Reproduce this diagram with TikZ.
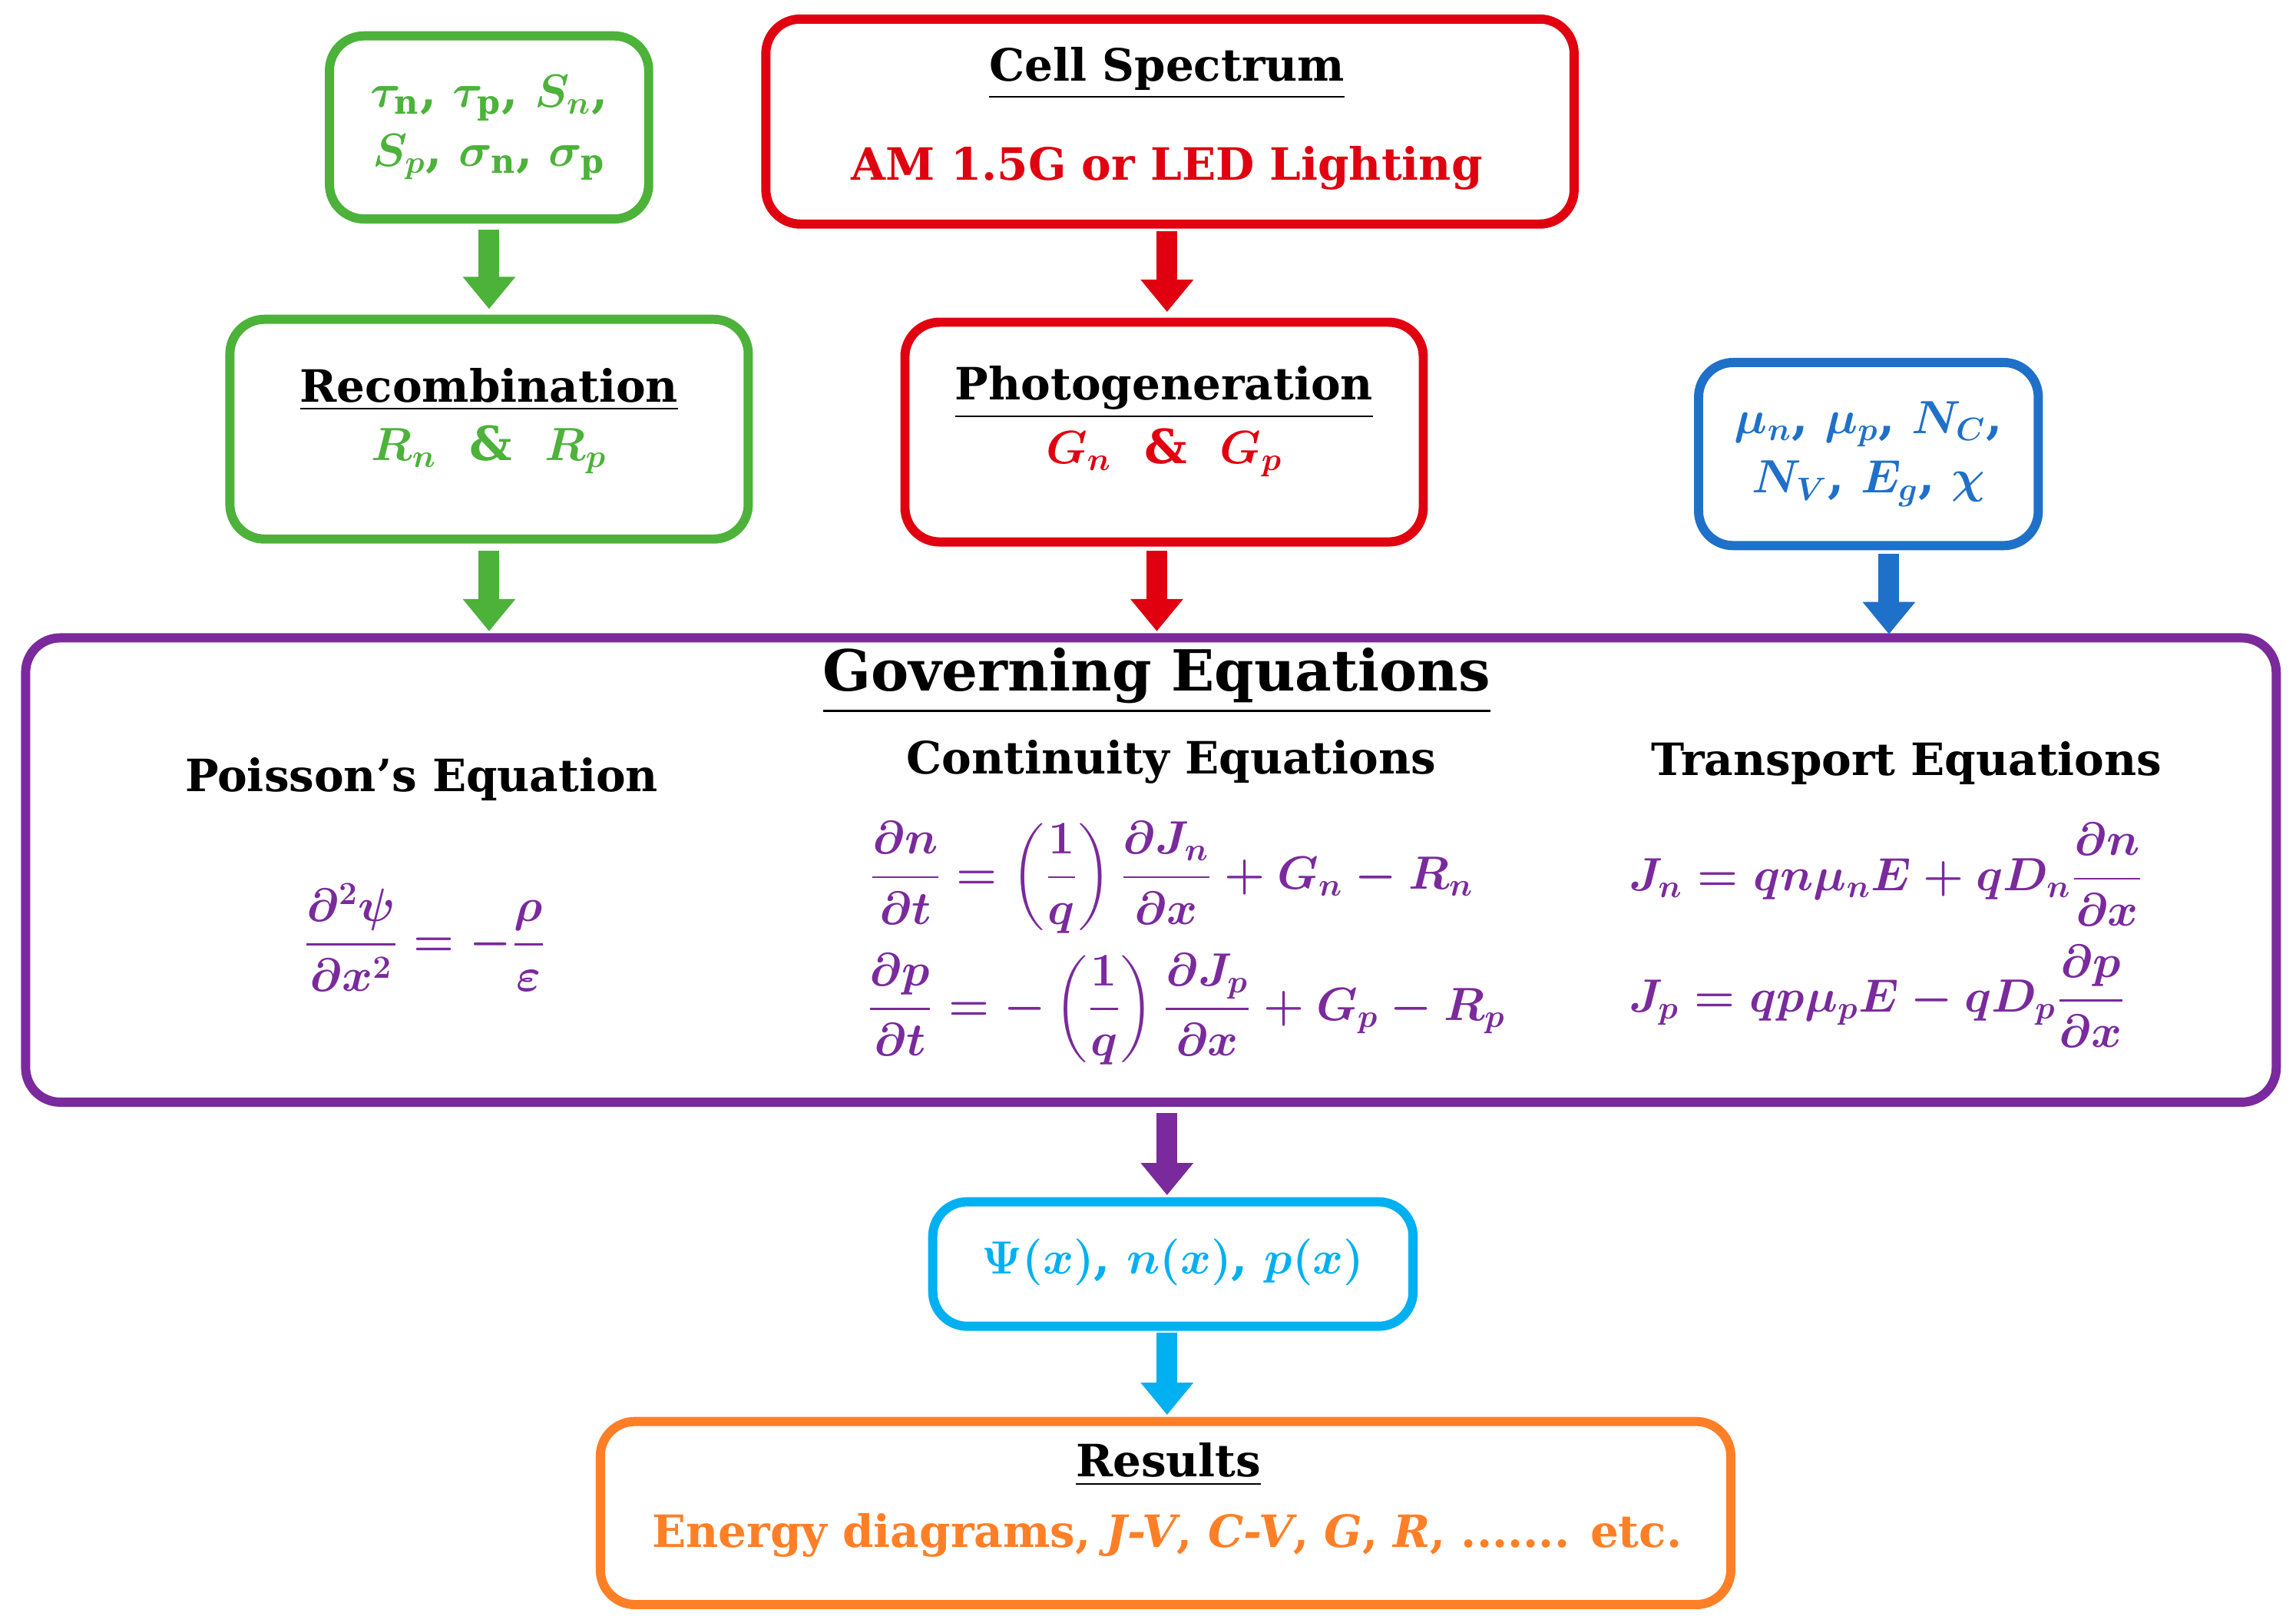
\documentclass[tikz,border=0pt]{standalone}
\usepackage{amsmath,amssymb,bm}
\usepackage{fontspec}
\setmainfont{DejaVu Serif}
\usetikzlibrary{arrows.meta}
\definecolor{cg}{HTML}{4CB23A}
\definecolor{cr}{HTML}{E00010}
\definecolor{cb}{HTML}{1F70C8}
\definecolor{cp}{HTML}{7A2A9C}
\definecolor{cc}{HTML}{00B0F0}
\definecolor{co}{HTML}{FF7F27}
\begin{document}
\begin{tikzpicture}[x=0.01907cm,y=-0.01907cm,
 box/.style={draw=#1,line width=3.4pt,rounded corners=0.45cm,inner sep=0pt},
 txt/.style={font=\fontsize{16.5}{22}\selectfont\bfseries\boldmath,align=center,text=#1},
 mth/.style={font=\fontsize{17.5}{22}\selectfont\bfseries\boldmath,align=center,text=#1},
 arr/.style={draw=#1,line width=0.27cm,-{Triangle[width=0.66cm,length=0.42cm]}}]
\useasboundingbox (0,0) rectangle (1568,1108);
% boxes
\node[box=cg,minimum width=218*0.01907cm,minimum height=125*0.01907cm] (g1) at (334,87) {};
\node[box=cr,minimum width=552*0.01907cm,minimum height=140*0.01907cm] (r1) at (799,83) {};
\node[box=cg,minimum width=354*0.01907cm,minimum height=150*0.01907cm] (g2) at (334,293) {};
\node[box=cr,minimum width=354*0.01907cm,minimum height=150*0.01907cm] (r2) at (795,295) {};
\node[box=cb,minimum width=232*0.01907cm,minimum height=125*0.01907cm] (b1) at (1276,310) {};
\node[box=cp,minimum width=1537*0.01907cm,minimum height=317*0.01907cm] (ge) at (786,594) {};
\node[box=cc,minimum width=328*0.01907cm,minimum height=85*0.01907cm] (c1) at (801,863) {};
\node[box=co,minimum width=772*0.01907cm,minimum height=125*0.01907cm] (o1) at (796,1033) {};
% arrows
\coordinate (a1s) at (334,157); \coordinate (a1e) at (334,211);
\coordinate (a2s) at (797,158); \coordinate (a2e) at (797,213);
\coordinate (a3s) at (334,376); \coordinate (a3e) at (334,431);
\coordinate (a4s) at (790,376); \coordinate (a4e) at (790,431);
\coordinate (a5s) at (1290,378); \coordinate (a5e) at (1290,433);
\coordinate (a6s) at (797,760); \coordinate (a6e) at (797,816);
\coordinate (a7s) at (797,910); \coordinate (a7e) at (797,966);
\draw[arr=cg] (a1s) -- (a1e);
\draw[arr=cr] (a2s) -- (a2e);
\draw[arr=cg] (a3s) -- (a3e);
\draw[arr=cr] (a4s) -- (a4e);
\draw[arr=cb] (a5s) -- (a5e);
\draw[arr=cp] (a6s) -- (a6e);
\draw[arr=cc] (a7s) -- (a7e);
% texts
\node[mth=cg] (t1) at (334,87) {$\tau_{\mathrm n}$, $\tau_{\mathrm p}$, $S_n$,\\ $S_p$, $\sigma_{\mathrm n}$, $\sigma_{\mathrm p}$};
\node[txt=black] (t2) at (797,50) {\underline{Cell Spectrum}};
\node[txt=cr] (t3) at (797,115) {AM 1.5G or LED Lighting};
\node[txt=black] (t4) at (334,266) {\underline{Recombination}};
\node[mth=cg] (t5) at (334,307) {$R_n$\ \ \&\ \ $R_p$};
\node[txt=black] (t6) at (795,268) {\underline{Photogeneration}};
\node[mth=cr] (t7) at (795,309) {$G_n$\ \ \&\ \ $G_p$};
\node[mth=cb] (t8) at (1276,310) {$\mu_n$, $\mu_p$, $N_C$,\\ $N_V$, $E_g$, $\chi$};
\node[txt=black,font=\fontsize{21}{26}\selectfont\bfseries] (t9) at (790,465) {\underline{Governing Equations}};
\node[txt=black] (t10) at (288,532) {Poisson’s Equation};
\node[txt=black] (t11) at (800,520) {Continuity Equations};
\node[txt=black] (t12) at (1302,521) {Transport Equations};
\node[mth=cp] (e1) at (290,640) {$\dfrac{\partial^2\psi}{\partial x^2}=-\dfrac{\rho}{\varepsilon}$};
\node[mth=cp,font=\fontsize{16.5}{20}\selectfont\bfseries\boldmath] (e2) at (800,599) {$\dfrac{\partial n}{\partial t}=\left(\dfrac{1}{q}\right)\dfrac{\partial J_n}{\partial x}+G_n-R_n$};
\node[mth=cp,font=\fontsize{16.5}{20}\selectfont\bfseries\boldmath] (e3) at (810,689) {$\dfrac{\partial p}{\partial t}=-\left(\dfrac{1}{q}\right)\dfrac{\partial J_p}{\partial x}+G_p-R_p$};
\node[mth=cp] (e4) at (1288,597) {$J_n=qn\mu_nE+qD_n\dfrac{\partial n}{\partial x}$};
\node[mth=cp] (e5) at (1282,680) {$J_p=qp\mu_pE-qD_p\dfrac{\partial p}{\partial x}$};
\node[mth=cc] (t13) at (801,862) {$\Psi(x)$, $n(x)$, $p(x)$};
\node[txt=black] (t14) at (798,1000) {\underline{Results}};
\node[txt=co] (t15) at (797,1048) {Energy diagrams, \textit{J-V}, \textit{C-V}, \textit{G}, \textit{R}, ....... etc.};
\end{tikzpicture}
\end{document}
